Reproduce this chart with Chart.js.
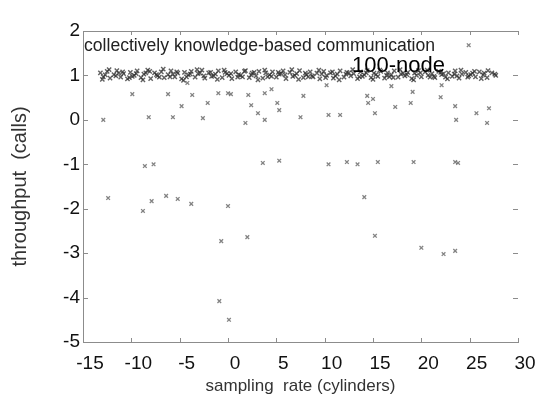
<!DOCTYPE html>
<html>
<head>
<meta charset="utf-8">
<script src="https://cdn.jsdelivr.net/npm/chart.js@4"></script>
<style>
  body { margin: 0; background: #fff; }
  canvas { display: block; }
</style>
</head>
<body>
<canvas id="scatterChart" width="541" height="403"></canvas>
<script>
// dense band of points around y = 1
const bandPoints = [
    [-13.2,1.06],[-12.9,0.97],[-12.5,1.09],[-12.2,0.94],[-11.8,1.02],[-11.5,1.11],[-11.1,0.96],[-10.8,1.04],
    [-10.4,0.92],[-10.1,1.07],[-9.7,1.00],[-9.4,1.10],[-9.0,0.95],[-8.7,1.03],[-8.3,1.12],[-8.0,0.93],
    [-7.6,1.06],[-7.3,0.99],[-6.9,1.08],[-6.6,0.95],[-6.2,1.02],[-5.9,1.10],[-5.5,0.97],[-5.2,1.05],
    [-4.8,0.92],[-4.5,1.07],[-4.1,1.01],[-3.8,1.09],[-3.4,0.96],[-3.1,1.04],[-2.7,1.12],[-2.4,0.94],
    [-2.0,1.06],[-1.7,0.98],[-1.3,1.03],[-1.0,1.10],[-0.6,0.95],[-0.3,1.07],[0.1,1.00],[0.4,0.93],
    [0.8,1.08],[1.1,1.02],[1.5,0.97],[1.8,1.11],[2.2,0.95],[2.5,1.05],[2.9,0.99],[3.2,1.09],
    [3.6,0.94],[3.9,1.06],[4.3,1.01],[4.6,1.08],[5.0,0.96],[5.3,1.03],[5.7,1.10],[6.0,0.93],
    [6.4,1.07],[6.7,0.98],[7.1,1.04],[7.4,1.11],[7.8,0.95],[8.1,1.02],[8.5,1.08],[8.8,0.97],
    [9.2,1.05],[9.5,0.92],[9.9,1.09],[10.2,1.00],[10.6,1.06],[10.9,0.94],[11.3,1.03],[11.6,1.10],
    [12.0,0.96],[12.3,1.07],[12.7,0.99],[13.0,1.04],[13.4,0.93],[13.7,1.08],[14.1,1.01],[14.4,1.11],
    [14.8,0.95],[15.1,1.05],[15.5,0.98],[15.8,1.09],[16.2,0.94],[16.5,1.06],[16.9,1.02],[17.2,1.10],
    [17.6,0.96],[17.9,1.03],[18.3,0.99],[18.6,1.07],[19.0,0.93],[19.3,1.05],[19.7,1.11],[20.0,0.97],
    [20.4,1.08],[20.7,1.00],[21.1,1.04],[21.4,0.95],[21.8,1.09],[22.1,1.02],[22.5,0.96],[22.8,1.06],
    [23.2,0.98],[23.5,1.10],[23.9,0.94],[24.2,1.03],[24.6,1.07],[24.9,0.99],[25.3,1.05],[25.6,0.97],
    [26.0,1.08],[26.4,1.01],[26.8,0.95],[27.3,1.06],[27.7,1.00],
    [-13.0,0.91],[-12.3,1.13],[-11.6,0.99],[-10.9,1.08],[-10.2,0.95],[-9.5,1.04],[-8.8,0.90],[-8.1,1.09],
    [-7.4,1.02],[-6.7,1.14],[-6.0,0.97],[-5.3,1.08],[-4.6,0.89],[-3.9,1.03],[-3.2,1.13],[-2.5,0.99],
    [-1.8,1.07],[-1.1,0.91],[-0.4,1.12],[0.3,1.04],[1.0,0.96],[1.7,1.09],[2.4,1.01],[3.1,0.90],
    [3.8,1.12],[4.5,0.98],[5.2,1.07],[5.9,1.01],[6.6,1.13],[7.3,0.91],[8.0,1.05],[8.7,0.99],
    [9.4,1.12],[10.1,0.95],[10.8,1.08],[11.5,0.90],[12.2,1.03],[12.9,1.13],[13.6,0.97],[14.3,1.06],
    [15.0,0.91],[15.7,1.12],[16.4,1.00],[17.1,0.95],[17.8,1.13],[18.5,1.02],[19.2,0.90],[19.9,1.06],
    [20.6,1.12],[21.3,0.98],[22.0,1.07],[22.7,0.92],[23.4,1.03],[24.1,1.12],[24.8,0.96],[25.5,1.09],
    [26.2,0.93],[26.9,1.11],[27.6,1.03],
    [-12.7,1.01],[-11.3,1.05],[-9.9,0.98],[-8.5,1.06],[-7.1,0.96],[-5.7,1.03],[-4.3,0.97],[-2.9,1.05],
    [-1.5,0.99],[-0.1,1.04],[1.3,1.00],[2.7,1.07],[4.1,0.97],[5.5,1.04],[6.9,1.00],[8.3,0.97],
    [9.7,1.03],[11.1,0.99],[12.5,1.06],[13.9,0.98],[15.3,1.02],[16.7,0.97],[18.1,1.05],[19.5,1.00],
    [20.9,0.96],[22.3,1.04],[23.7,0.99],[25.1,1.02],[26.5,1.05]
];

// scattered points away from the band
const scatterPoints = [
    [-12.9,0.0],[-9.9,0.58],[-8.2,0.06],[-6.2,0.58],[-5.7,0.06],[-4.8,0.31],[-3.7,0.56],[-2.6,0.04],
    [-2.1,0.38],[-1.0,0.6],[0.0,0.6],[-4.2,0.83],[0.3,0.58],[2.1,0.56],[3.8,0.6],[4.5,0.69],
    [2.4,0.33],[3.1,0.15],[3.8,0.0],[1.8,-0.07],[5.1,0.38],[5.3,0.22],[7.8,0.54],[7.5,0.06],
    [10.2,0.78],[10.4,0.11],[11.6,0.11],[14.4,0.54],[14.5,0.38],[16.9,0.76],[19.1,0.63],[22.1,0.78],
    [15.0,0.47],[17.3,0.29],[18.9,0.38],[22.0,0.51],[15.2,0.15],[23.5,0.31],[25.7,0.15],[27.0,0.26],
    [23.6,0.0],[26.8,-0.07],[24.9,1.68],
    [-8.6,-1.04],[-7.7,-1.0],[3.6,-0.97],[5.3,-0.92],[10.4,-1.0],[12.3,-0.95],[13.4,-1.0],[15.5,-0.95],
    [19.2,-0.95],[23.5,-0.95],[23.8,-0.97],
    [-12.4,-1.76],[-8.8,-2.05],[-7.9,-1.83],[-6.4,-1.71],[-5.2,-1.78],[-3.8,-1.89],[0.0,-1.94],
    [-0.7,-2.73],[2.0,-2.64],[-0.9,-4.08],[0.1,-4.5],
    [14.1,-1.74],[15.2,-2.61],[20.0,-2.88],[22.3,-3.02],[23.5,-2.95]
];

const xTickMin = -15, xTickMax = 30, xStep = 5;
const yTickMin = -5, yTickMax = 2, yStep = 1;

const xTitle = 'sampling  rate (cylinders)';
const yTitle = 'throughput  (calls)';
const noteText = 'collectively knowledge-based communication';
const nodeText = '100-node';

const fontFamily = '"Liberation Sans", Arial, sans-serif';
const axisGray = '#8c8c8c';

// top border, inward tick marks and the two notes
const framePlugin = {
    id: 'frame',
    afterDraw(chart) {
        const { ctx, chartArea: a, scales: { x, y } } = chart;
        ctx.save();
        ctx.strokeStyle = axisGray;
        ctx.lineWidth = 1;
        ctx.beginPath();
        ctx.moveTo(a.left, a.top + 0.5);
        ctx.lineTo(a.right, a.top + 0.5);
        x.ticks.forEach(t => {
            const px = Math.round(x.getPixelForValue(t.value)) + 0.5;
            ctx.moveTo(px, a.bottom); ctx.lineTo(px, a.bottom - 4);
            ctx.moveTo(px, a.top); ctx.lineTo(px, a.top + 4);
        });
        y.ticks.forEach(t => {
            const py = Math.round(y.getPixelForValue(t.value)) + 0.5;
            ctx.moveTo(a.left, py); ctx.lineTo(a.left + 5, py);
            ctx.moveTo(a.right - 5, py); ctx.lineTo(a.right, py);
        });
        ctx.stroke();

        ctx.fillStyle = '#222';
        ctx.textBaseline = 'middle';
        ctx.textAlign = 'left';
        ctx.font = '17.6px ' + fontFamily;
        ctx.fillText(noteText, a.left + 1, a.top + 15);
        ctx.fillStyle = '#000';
        ctx.font = '22px ' + fontFamily;
        ctx.fillText(nodeText, a.left + 269, a.top + 35);
        ctx.restore();
    }
};

const ctx = document.getElementById('scatterChart').getContext('2d');
const toXY = p => ({ x: p[0], y: p[1] });

new Chart(ctx, {
    type: 'scatter',
    data: {
        datasets: [{
            data: bandPoints.map(toXY),
            pointStyle: 'crossRot',
            pointRadius: 3,
            borderWidth: 1.4,
            borderColor: 'rgba(45,45,45,0.75)',
            backgroundColor: 'rgba(45,45,45,0.75)'
        }, {
            data: scatterPoints.map(toXY),
            pointStyle: 'crossRot',
            pointRadius: 2.6,
            borderWidth: 1.3,
            borderColor: 'rgba(100,100,100,0.8)',
            backgroundColor: 'rgba(100,100,100,0.8)'
        }]
    },
    options: {
        responsive: false,
        animation: false,
        layout: { padding: { left: 0, right: 23, top: 31, bottom: 0 } },
        plugins: {
            legend: { display: false },
            tooltip: { enabled: false }
        },
        scales: {
            x: {
                type: 'linear',
                min: xTickMin,
                max: xTickMax,
                afterFit(scale) { scale.height = 61; },
                grid: { display: true, drawOnChartArea: false, drawTicks: false },
                border: { display: true, color: axisGray },
                ticks: {
                    stepSize: xStep,
                    padding: 10,
                    labelOffset: 7,
                    color: '#111',
                    font: { family: fontFamily, size: 19 }
                },
                title: {
                    display: true,
                    text: xTitle,
                    color: '#333',
                    padding: 6,
                    font: { family: fontFamily, size: 17 }
                }
            },
            y: {
                min: yTickMin,
                max: yTickMax,
                afterFit(scale) { scale.width = 83; },
                grid: { display: true, drawOnChartArea: false, drawTicks: false },
                border: { display: true, color: axisGray },
                ticks: {
                    stepSize: yStep,
                    padding: 3,
                    color: '#111',
                    font: { family: fontFamily, size: 19 }
                },
                title: {
                    display: true,
                    text: yTitle,
                    color: '#333',
                    padding: 8,
                    font: { family: fontFamily, size: 20 }
                }
            }
        }
    },
    plugins: [framePlugin]
});
</script>
</body>
</html>
